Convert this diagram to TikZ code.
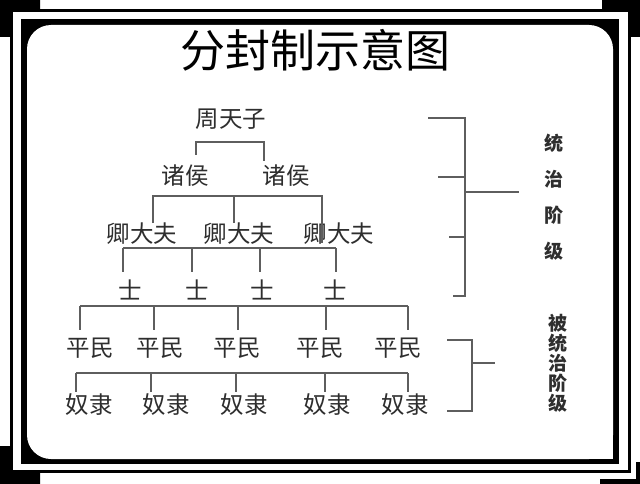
\documentclass[tikz,border=0pt]{standalone}
\usepackage{fontspec}
\setmainfont{Noto Sans CJK SC}
\usetikzlibrary{positioning}
\definecolor{ink}{HTML}{2E2E2E}
\definecolor{wire}{HTML}{5E5E5E}

\begin{document}
\begin{tikzpicture}[x=1pt, y=-1pt,
  rank/.style={font=\fontsize{23.5}{24}\selectfont, text=ink, inner sep=0pt},
  tier/.style={text=ink, align=center, inner sep=0pt},
  link/.style={draw=wire, line width=1.4pt}
]
\useasboundingbox (0,0) rectangle (640,484);
% frame
\fill[black] (0,0) rectangle (40,37) (602,0) rectangle (640,37)
  (0,446) rectangle (40,484) (600,479) rectangle (640,484) (636,462) rectangle (640,484);
\draw[line width=3pt, fill=white] (11.5,11) rectangle (629,471);
\fill[black] (21,19) rectangle (619,464);
\fill[white, rounded corners=24pt] (27,25) rectangle (613,459);
\fill[white] (560,420) rectangle (613,459);

\node[font=\fontsize{45}{45}\selectfont] (title) at (315,50) {分封制示意图};

% ranks
\node[rank] (king) at (231,119) {周天子};
\node[rank] (lord1) at (185,176) {诸侯};
\node[rank] (lord2) at (286,176) {诸侯};
\node[rank] (min1) at (142,234) {卿大夫};
\node[rank] (min2) at (239,234) {卿大夫};
\node[rank] (min3) at (339,234) {卿大夫};
\foreach \i/\x in {1/130,2/197,3/262,4/335}
  \node[rank] (shi\i) at (\x,290) {士};
\foreach \i/\x in {1/90,2/160,3/237,4/320,5/398}
  \node[rank] (pm\i) at (\x,348) {平民};
\foreach \i/\x in {1/89,2/166,3/244,4/327,5/405}
  \node[rank] (nl\i) at (\x,405) {奴隶};

\node[tier, font=\fontsize{19}{36}\selectfont\bfseries] (rule) at (554,197) {统\\治\\阶\\级};
\node[tier, font=\fontsize{19}{20}\selectfont\bfseries] (ruled) at (558,363) {被\\统\\治\\阶\\级};

% tree links
\coordinate (k1) at (196,142);
\coordinate (k2) at (264,142);
\draw[link] (k1) ++(0,13) -- (k1) -- (k2) -- ++(0,19);
\coordinate (h1) at (153,196);
\coordinate (h2) at (234,196);
\coordinate (h3) at (322,196);
\draw[link] (h1) ++(0,27) -- (h1) -- (h3) -- ++(0,47);
\draw[link] (h2) -- ++(0,27);
\foreach \i/\x in {1/123,2/192,3/260,4/336}
  \coordinate (d\i) at (\x,248);
\draw[link] (d1) -- (d4);
\foreach \i in {1,...,4} \draw[link] (d\i) -- ++(0,24);
\foreach \i/\x in {1/80,2/154,3/238,4/326,5/408}
  \coordinate (p\i) at (\x,306);
\draw[link] (p1) -- (p5);
\foreach \i in {1,...,5} \draw[link] (p\i) -- ++(0,24);
\foreach \i/\x in {1/76,2/151,3/236,4/325,5/408}
  \coordinate (n\i) at (\x,373);
\draw[link] (n1) -- (n5);
\foreach \i in {1,...,5} \draw[link] (n\i) -- ++(0,19);

% brackets
\coordinate (sp1) at (465,118);
\coordinate (sp2) at (465,296);
\draw[link] (sp1) ++(-37,0) -- (sp1) -- (sp2) -- ++(-12,0);
\draw[link] (sp1) ++(0,59) -- ++(-27,0);
\draw[link] (sp1) ++(0,119) -- ++(-16,0);
\draw[link] (sp1) ++(0,74) -- ++(54,0);
\coordinate (sq1) at (472,340);
\coordinate (sq2) at (472,411);
\draw[link] (sq1) ++(-25,0) -- (sq1) -- (sq2) -- ++(-25,0);
\draw[link] (sq1) ++(0,23) -- ++(23,0);
\end{tikzpicture}
\end{document}
